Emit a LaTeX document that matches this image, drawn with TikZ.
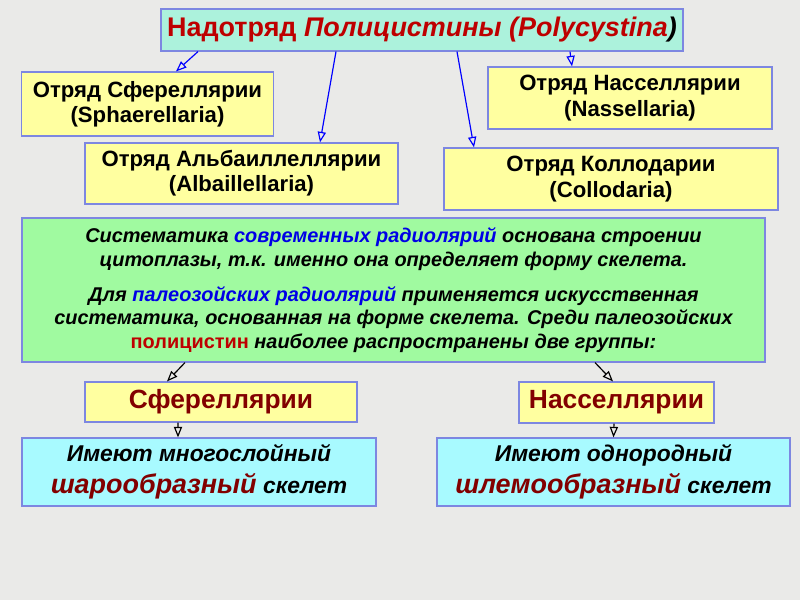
\documentclass[tikz,border=0pt]{standalone}
\usepackage{fontspec}
\setmainfont{Liberation Sans}
\usepackage{xcolor}
\usetikzlibrary{arrows.meta, positioning, calc}
\definecolor{bgray}{RGB}{234,234,232}
\definecolor{edge}{RGB}{125,135,225}
\definecolor{mint}{RGB}{172,242,220}
\definecolor{lyellow}{RGB}{255,255,160}
\definecolor{lgreen}{RGB}{160,250,160}
\definecolor{lcyan}{RGB}{168,250,255}
\definecolor{dred}{RGB}{190,0,0}
\definecolor{maroon}{RGB}{130,0,0}
\definecolor{tblue}{RGB}{0,0,230}

\begin{document}
\begin{tikzpicture}[x=0.03cm, y=-0.03cm,
    box/.style={draw=edge, line width=1pt, inner sep=0pt, align=center},
    ybox/.style={box, fill=lyellow, font=\bfseries\fontsize{18.9}{21.5}\selectfont},
    gbox/.style={box, fill=lyellow, text=maroon, font=\bfseries\fontsize{22.5}{24}\selectfont},
    cbox/.style={box, fill=lcyan, font=\bfseries\itshape\fontsize{19.5}{27}\selectfont},
    arr/.style={-{Triangle[open, length=9pt, width=7pt]}, line width=1pt, blue},
    barr/.style={-{Triangle[open, length=9pt, width=7pt]}, line width=1pt, black}]
\useasboundingbox[fill=bgray] (0,0) rectangle (800,600);

% Title
\node[box, fill=mint, minimum width=15.66cm, minimum height=1.26cm,
      font=\bfseries\fontsize{23}{26}\selectfont] (top) at (422,30)
    {\color{dred}Надотряд \textit{Полицистины (Polycystina}\color{black}\textit{)}};

% Orders
\node[ybox, minimum width=7.56cm, minimum height=1.92cm] (sph) at (147.5,104)
    {Отряд Сфереллярии\\(Sphaerellaria)};
\node[ybox, minimum width=9.39cm, minimum height=1.83cm] (alb) at (241.5,173.5)
    {Отряд Альбаиллеллярии\\(Albaillellaria)};
\node[ybox, minimum width=8.52cm, minimum height=1.86cm] (nas) at (630,98)
    {Отряд Насселлярии\\(Nassellaria)};
\node[ybox, minimum width=10.02cm, minimum height=1.86cm] (col) at (611,179)
    {Отряд Коллодарии\\(Collodaria)};

% Text block
\node[box, fill=lgreen, minimum width=22.29cm, minimum height=4.32cm,
      font=\bfseries\itshape\fontsize{17}{20}\selectfont] (txt) at (393.5,290)
    {Систематика \textcolor{tblue}{современных радиолярий} основана строении\\
     цитоплазы, т.к. именно она определяет форму скелета.\\[10pt]
     Для \textcolor{tblue}{палеозойских радиолярий} применяется искусственная\\
     систематика, основанная на форме скелета. Среди палеозойских\\
     \textcolor{dred}{\upshape полицистин} наиболее распространены две группы:};

% Groups
\node[gbox, minimum width=8.16cm, minimum height=1.2cm] (sfe) at (221,402)
    {Сфереллярии};
\node[gbox, minimum width=5.85cm, minimum height=1.23cm] (nsb) at (616.5,402.5)
    {Насселлярии};
\node[cbox, minimum width=10.62cm, minimum height=2.04cm] (skl) at (199,472)
    {Имеют многослойный\\
     \textcolor{maroon}{\fontsize{23}{27}\selectfont шарообразный} скелет};
\node[cbox, minimum width=10.59cm, minimum height=2.04cm] (skr) at (613.5,472)
    {Имеют однородный\\
     \textcolor{maroon}{\fontsize{23}{27}\selectfont шлемообразный} скелет};

% Arrows
\draw[arr] ([xshift=-6.72cm]top.south) -- ([xshift=0.855cm]sph.north);
\draw[arr] ([xshift=-2.58cm]top.south) -- ([xshift=2.355cm]alb.north);
\draw[arr] ([xshift=1.05cm]top.south) -- ([xshift=-4.11cm]col.north);
\draw[arr] ([xshift=4.44cm]top.south) -- ([xshift=-1.74cm]nas.north);
\draw[barr] ([xshift=-6.255cm]txt.south) -- ([xshift=-1.62cm]sfe.north);
\draw[barr] ([xshift=6.045cm]txt.south) -- ([xshift=-0.105cm]nsb.north);
\draw[barr] ([xshift=-1.29cm]sfe.south) -- ([xshift=-0.63cm]skl.north);
\draw[barr] ([xshift=-0.075cm]nsb.south) -- (skr.north);
\end{tikzpicture}
\end{document}
